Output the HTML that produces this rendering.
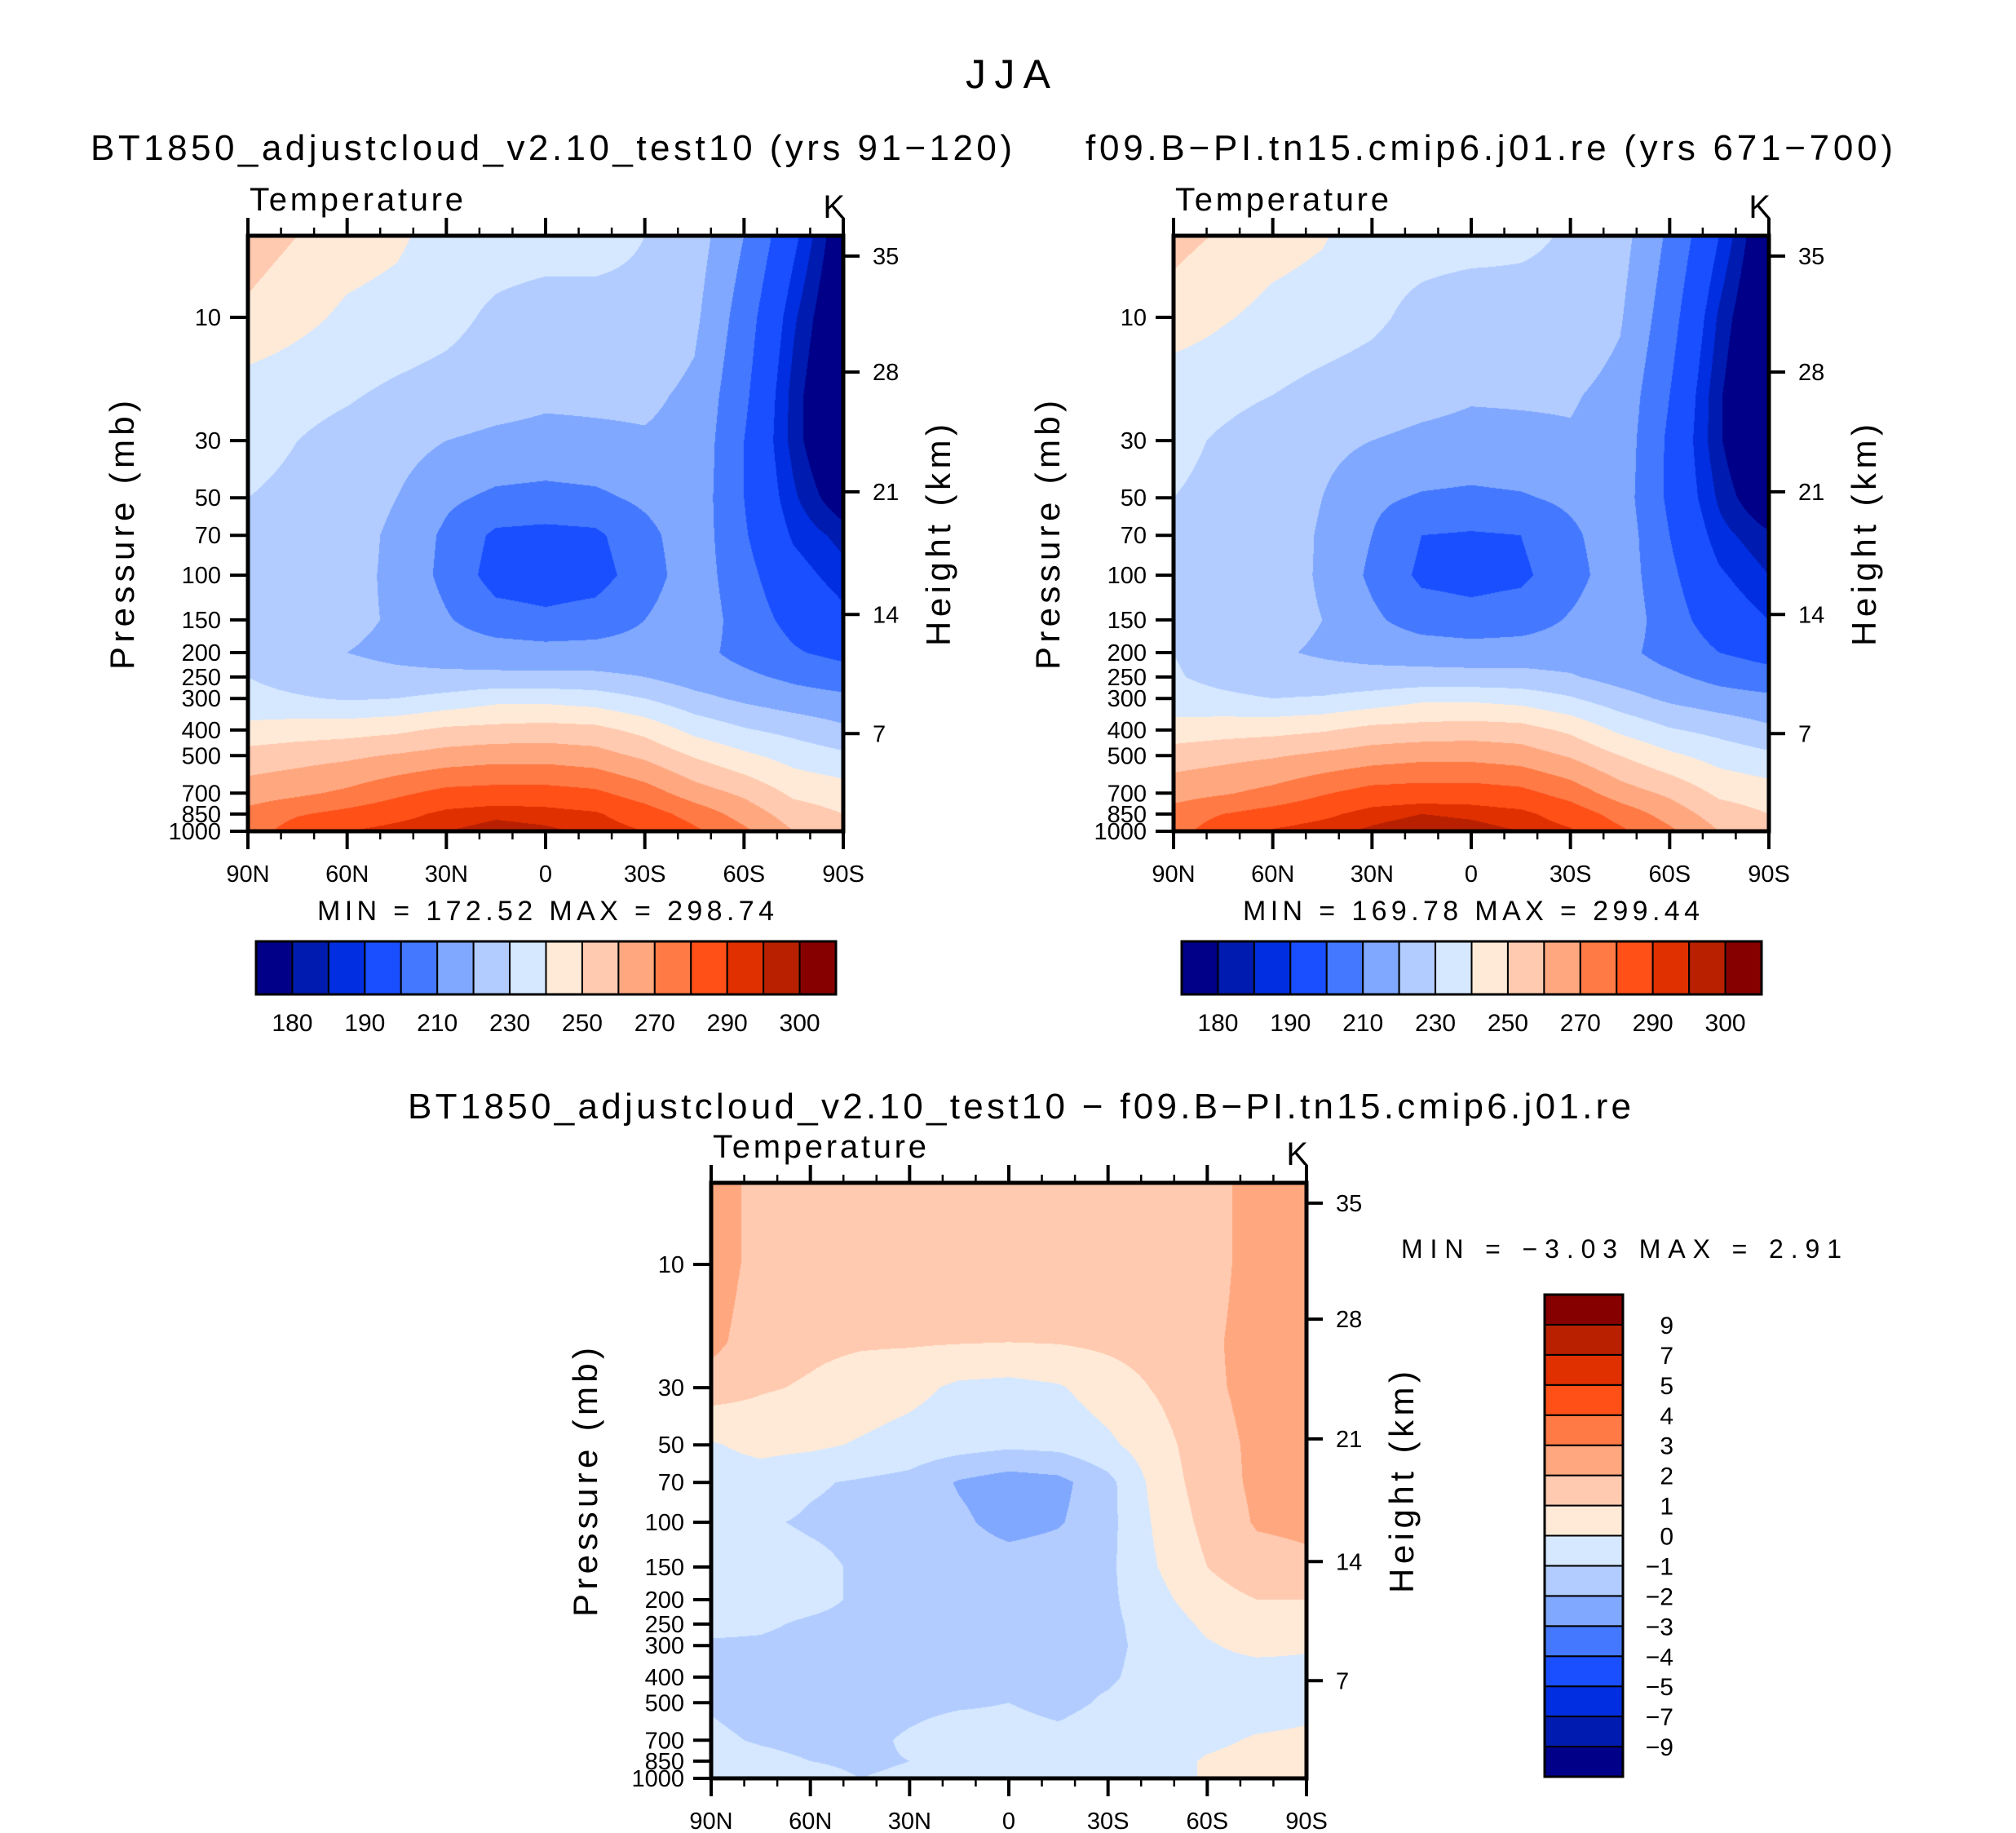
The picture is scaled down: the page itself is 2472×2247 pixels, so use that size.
<!DOCTYPE html>
<html><head><meta charset="utf-8">
<style>
html,body{margin:0;padding:0;background:#fff;}
#wrap{position:relative;width:2472px;height:2247px;overflow:hidden;background:#fff;}
canvas{position:absolute;}
svg{position:absolute;left:0;top:0;}
text{font-family:"Liberation Sans",sans-serif;fill:#000;}
</style></head>
<body>
<div id="wrap">
<canvas id="c1" width="730" height="730" style="left:304px;top:289px"></canvas>
<canvas id="c2" width="730" height="730" style="left:1439px;top:289px"></canvas>
<canvas id="c3" width="730" height="730" style="left:872px;top:1450px"></canvas>
<svg id="s" width="2472" height="2247"></svg>
</div>
<script>
// ---- data ----
const lats = [90,75,60,45,30,15,0,-15,-30,-45,-60,-75,-90];
const levels = [5,10,20,30,50,70,100,150,200,250,300,400,500,700,850,1000];
const tempCase = [
[255,250,245,242,235,235,235,233,230,225,210,192,174],
[248,243,238,236,233,228,225,227,228,222,205,186,171],
[235,233,231,228,226,224,222,222,222,218,202,183,168],
[233,230,227,224,220,218,217,218,219,217,200,183,168],
[230,228,225,220,212,208,207,208,212,216,200,186,175],
[229,227,224,218,208,198,197,198,207,216,201,189,183],
[228,226,223,218,207,196,195,196,205,216,203,193,187],
[228,226,222,219,211,204,202,204,210,217,205,197,192],
[229,224,220,218,216,215,214,214,214,213,207,201,197],
[230,226,223,222,222,222,222,222,220,215,212,208,205],
[233,231,229,230,233,237,237,235,230,223,218,214,212],
[243,245,246,248,252,253,254,253,247,237,231,227,222],
[254,256,258,261,264,266,266,264,258,249,242,236,232],
[265,268,272,278,283,284,284,282,275,265,258,248,245],
[273,279,283,287,292,294,293,291,285,276,266,255,250],
[275,285,290,293,295,297,296,294,290,282,272,260,255]];
const tempCtrl = [
[253,249,244,241,234,234,234,232,229,224,208,190,172],
[246,241,237,235,232,227,224,226,227,221,204,184,169],
[233,232,230,227,225,223,221,221,221,217,200,181,166],
[232,229,226,223,220,218,217,218,219,216,198,181,166],
[230,228,225,220,212,209,208,209,212,215,198,184,173],
[229,227,225,219,210,200,199,200,208,216,200,187,181],
[229,227,224,219,208,198,197,198,206,216,202,191,185],
[228,227,223,220,212,205,203,205,211,217,204,195,190],
[230,225,221,219,217,216,215,215,215,213,206,200,196],
[231,227,224,223,223,223,223,223,221,216,212,207,204],
[234,232,230,231,234,238,238,236,231,224,218,214,212],
[244,246,247,249,253,254,255,254,248,238,231,227,222],
[255,257,259,262,265,267,267,265,259,250,242,236,232],
[266,269,273,279,284,285,285,283,276,265,258,248,245],
[274,280,284,288,293,295,294,292,286,276,266,255,250],
[276,286,291,294,296,298,297,295,291,282,272,260,255]];
const tempDiff = [
[2.6,1.6,1.5,1.5,1.5,1.5,1.5,1.5,1.5,1.5,1.7,2.3,2.4],
[2.6,1.6,1.5,1.5,1.5,1.5,1.5,1.5,1.5,1.5,1.6,2.4,2.5],
[2.3,1.4,1.2,1.1,1.1,1.05,1.0,1.05,1.2,1.4,1.8,2.4,2.5],
[1.5,1.1,0.9,0.6,0.3,-0.2,-0.3,-0.1,0.5,1.1,1.8,2.3,2.4],
[-0.1,0.3,0.2,-0.1,-0.4,-0.6,-0.8,-0.7,-0.2,0.6,1.6,2.2,2.3],
[-0.5,-0.5,-0.9,-1.1,-1.3,-2.1,-2.5,-2.3,-1.3,0.4,1.5,2.2,2.3],
[-1.0,-0.9,-1.1,-1.2,-1.4,-1.8,-2.4,-2.1,-1.3,0.2,1.3,2.1,2.2],
[-0.4,-0.6,-0.8,-1.1,-1.3,-1.4,-1.5,-1.4,-1.2,0.0,1.0,1.6,1.8],
[-0.6,-0.7,-0.8,-1.1,-1.3,-1.4,-1.4,-1.3,-1.2,-0.3,0.6,1.0,1.0],
[-0.8,-0.9,-1.1,-1.2,-1.3,-1.4,-1.4,-1.3,-1.2,-0.6,0.2,0.6,0.7],
[-1.1,-1.1,-1.2,-1.3,-1.3,-1.3,-1.3,-1.3,-1.2,-0.7,-0.1,0.3,0.1],
[-1.2,-1.3,-1.3,-1.3,-1.3,-1.3,-1.2,-1.2,-1.1,-0.7,-0.4,-0.5,-0.3],
[-1.1,-1.4,-1.2,-1.3,-1.2,-1.1,-1.0,-1.2,-0.9,-0.6,-0.5,-0.5,-0.3],
[-0.8,-1.1,-1.3,-1.2,-0.9,-0.6,-0.7,-0.8,-0.6,-0.5,-0.2,0.1,0.2],
[-0.5,-0.7,-1.0,-1.1,-1.0,-0.5,-0.5,-0.6,-0.5,-0.4,0.1,0.3,0.3],
[-0.5,-0.6,-0.8,-1.0,-0.9,-0.6,-0.5,-0.5,-0.5,-0.4,0.1,0.4,0.3]];
const tempBounds = [180,185,190,200,210,220,230,240,250,260,270,280,290,295,300];
const tempLabels = ["180","","190","","210","","230","","250","","270","","290","","300"];
const diffBounds = [-9,-7,-5,-4,-3,-2,-1,0,1,2,3,4,5,7,9];
const diffLabels = ["\u22129","\u22127","\u22125","\u22124","\u22123","\u22122","\u22121","0","1","2","3","4","5","7","9"];
const pTicks = [10,30,50,70,100,150,200,250,300,400,500,700,850,1000];
const hTicks = [35,28,21,14,7];
const xTickLabels = ["90N","60N","30N","0","30S","60S","90S"];
const palette = ['#000088','#001cb0','#002ee0','#1a4fff','#4478ff','#80a8ff','#b2ccff','#d5e8ff','#ffead8','#ffcab0','#ffa880','#ff7a45','#ff5018','#e03000','#b82000','#870000'];

// ---- axis functions ----
const PW = 730, PH = 730;
const pAnchorP = [5,10,30,50,70,100,150,200,250,300,400,500,700,850,1000];
const pAnchorF = [0,0.137,0.344,0.440,0.503,0.570,0.645,0.700,0.741,0.777,0.830,0.873,0.936,0.971,1.0];
function yFracP(p){
  const lp=Math.log(p);
  for(let i=0;i<pAnchorP.length-1;i++){
    const a=Math.log(pAnchorP[i]), b=Math.log(pAnchorP[i+1]);
    if(lp<=b||i===pAnchorP.length-2){return pAnchorF[i]+(pAnchorF[i+1]-pAnchorF[i])*(lp-a)/(b-a);}
  }
}
const hAnchorK = [35,28,21,14,7];
const hAnchorF = [0.034,0.229,0.430,0.636,0.836];
function yFracH(h){
  for(let i=0;i<hAnchorK.length-1;i++){
    if(h>=hAnchorK[i+1]||i===hAnchorK.length-2){return hAnchorF[i]+(hAnchorF[i+1]-hAnchorF[i])*(hAnchorK[i]-h)/(hAnchorK[i]-hAnchorK[i+1]);}
  }
}
function xFrac(lat){return (90-lat)/180;}
function colorIdx(v,bounds){let k=0;while(k<bounds.length&&v>=bounds[k])k++;return k;}
function hex2rgb(h){return [parseInt(h.substr(1,2),16),parseInt(h.substr(3,2),16),parseInt(h.substr(5,2),16)];}
const palRGB = palette.map(hex2rgb);

function smooth(t){return t*t*(3-2*t);}
function fillCanvas(id,field,bounds){
  const cv=document.getElementById(id), ctx=cv.getContext('2d');
  const img=ctx.createImageData(PW,PH);
  const rowF=levels.map(yFracP);
  const colF=lats.map(xFrac);
  for(let py=0;py<PH;py++){
    const fy=(py+0.5)/PH;
    let r=0;while(r<rowF.length-2&&fy>rowF[r+1])r++;
    let ty=(fy-rowF[r])/(rowF[r+1]-rowF[r]);ty=Math.max(0,Math.min(1,ty));
    for(let px=0;px<PW;px++){
      const fx=(px+0.5)/PW;
      let c=0;while(c<colF.length-2&&fx>colF[c+1])c++;
      let tx=(fx-colF[c])/(colF[c+1]-colF[c]);tx=Math.max(0,Math.min(1,tx));
      const v=(1-ty)*((1-tx)*field[r][c]+tx*field[r][c+1])+ty*((1-tx)*field[r+1][c]+tx*field[r+1][c+1]);
      const rgb=palRGB[colorIdx(v,bounds)];
      const o=(py*PW+px)*4;
      img.data[o]=rgb[0];img.data[o+1]=rgb[1];img.data[o+2]=rgb[2];img.data[o+3]=255;
    }
  }
  ctx.putImageData(img,0,0);
}
fillCanvas('c1',tempCase,tempBounds);
fillCanvas('c2',tempCtrl,tempBounds);
fillCanvas('c3',tempDiff,diffBounds);

// ---- svg overlay ----
const S=document.getElementById('s'), NS='http://www.w3.org/2000/svg';
function el(tag,attrs,parent){const e=document.createElementNS(NS,tag);for(const k in attrs)e.setAttribute(k,attrs[k]);(parent||S).appendChild(e);return e;}
function txt(x,y,s,size,anchor,name,extra){const t=el('text',Object.assign({x:x,y:y,'font-size':size,'text-anchor':anchor||'start'},extra||{}));t.textContent=s;


return t;}

function drawAxes(X,Y,name){
  const g=el('g',{});
  
  
  for(let lat=90;lat>=-90;lat-=10){
    const x=X+xFrac(lat)*PW, major=(lat%30===0);
    const L=major?22:10;
    el('line',{x1:x,y1:Y+PH,x2:x,y2:Y+PH+L,stroke:'#000','stroke-width':major?4:2.5},g);
    el('line',{x1:x,y1:Y,x2:x,y2:Y-L,stroke:'#000','stroke-width':major?4:2.5},g);
  }
  xTickLabels.forEach((s,i)=>{
    const x=X+xFrac(90-30*i)*PW;
    txt(x,Y+PH+62,s,29,'middle','x-tick-label');
  });
  pTicks.forEach(p=>{
    const y=Y+yFracP(p)*PH;
    el('line',{x1:X-22,y1:y,x2:X,y2:y,stroke:'#000','stroke-width':4},g);
    txt(X-33,y+10,String(p),29,'end','pressure-tick-label');
  });
  hTicks.forEach(h=>{
    const y=Y+yFracH(h)*PH;
    el('line',{x1:X+PW,y1:y,x2:X+PW+20,y2:y,stroke:'#000','stroke-width':4},g);
    txt(X+PW+36,y+10,String(h),29,'start','height-tick-label');
  });
  el('rect',{x:X,y:Y,width:PW,height:PH,fill:'none',stroke:'#000','stroke-width':5},g);
  txt(X+2,Y-31,'Temperature',40,'start','plot-subtitle',{textLength:262});
  txt(X+PW+2,Y-22,'K',40,'end','units-label');
  txt(0,0,'Pressure  (mb)',42,'middle','y-axis-title',{transform:'translate('+(X-140)+','+(Y+367)+') rotate(-90)',textLength:330});
  txt(0,0,'Height  (km)',42,'middle','y2-axis-title',{transform:'translate('+(X+PW+131)+','+(Y+367)+') rotate(-90)',textLength:272});
}
drawAxes(304,289,'case');
drawAxes(1439,289,'control');
drawAxes(872,1450,'difference');

txt(1236,108,'JJA',50,'middle','figure-title',{textLength:104});
txt(676,196,'BT1850_adjustcloud_v2.10_test10 (yrs 91\u2212120)',44,'middle','case-title',{textLength:1130});
txt(1826,196,'f09.B\u2212PI.tn15.cmip6.j01.re (yrs 671\u2212700)',44,'middle','control-title',{textLength:990});
txt(1250,1371,'BT1850_adjustcloud_v2.10_test10 \u2212 f09.B\u2212PI.tn15.cmip6.j01.re',44,'middle','difference-title',{textLength:1500});
txt(669,1128,'MIN  =  172.52    MAX  =  298.74',34,'middle','case-min-max',{textLength:560});
txt(1804,1128,'MIN  =  169.78    MAX  =  299.44',34,'middle','control-min-max',{textLength:560});
txt(1718,1542,'MIN  =    \u22123.03    MAX  =     2.91',32,'start','difference-min-max',{textLength:540});

function hbar(X,Y,W,H,name){
  const g=el('g',{});
  
  
  const bw=W/palette.length;
  palette.forEach((c,i)=>{el('rect',{x:X+i*bw,y:Y,width:bw,height:H,fill:c,stroke:'#000','stroke-width':2},g);});
  el('rect',{x:X,y:Y,width:W,height:H,fill:'none',stroke:'#000','stroke-width':3},g);
  tempLabels.forEach((s,i)=>{ if(s) txt(X+(i+1)*bw,Y+H+45,s,30,'middle','colorbar-label'); });
}
hbar(314,1154,711,65,'case-colorbar');
hbar(1449,1154,711,65,'control-colorbar');
(function(){
  const X=1894,Y=1587,W=96,H=591;
  const g=el('g',{});
  
  
  const bh=H/palette.length;
  palette.forEach((c,i)=>{el('rect',{x:X,y:Y+H-(i+1)*bh,width:W,height:bh,fill:c,stroke:'#000','stroke-width':2},g);});
  el('rect',{x:X,y:Y,width:W,height:H,fill:'none',stroke:'#000','stroke-width':3},g);
  diffLabels.forEach((s,i)=>{
    const y=Y+H-(i+1)*bh;
    txt(2052,y+11,s,30,'end','colorbar-label');
  });
})();
</script>
</body></html>
